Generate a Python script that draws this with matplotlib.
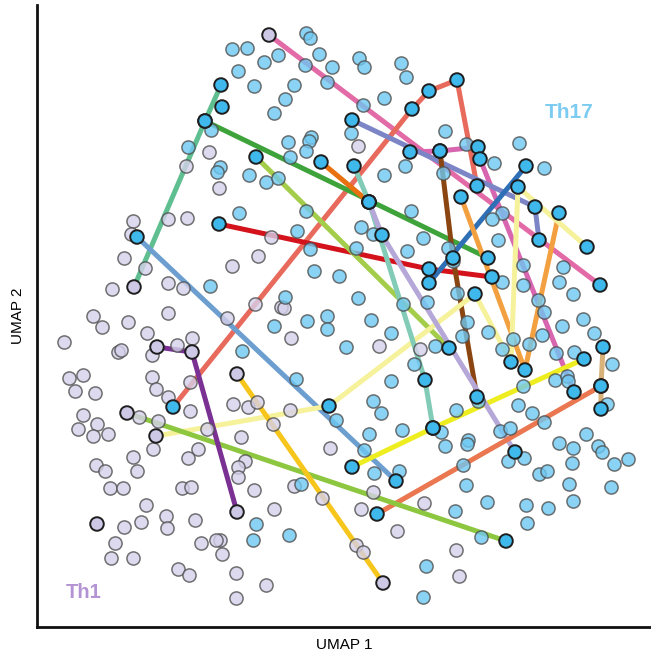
import matplotlib
matplotlib.use("Agg")
import matplotlib.pyplot as plt

plt.rcParams['font.family'] = ['Liberation Sans', 'DejaVu Sans']

# UMAP coordinates of the background cells (UMAP 2 axis runs downwards here)
th17_x = [306, 310, 232, 247, 278, 264, 319, 305, 332, 359, 364, 401, 406, 238, 254, 294, 327, 285,
          274, 363, 384, 211, 351, 445, 519, 466, 311, 309, 288, 306, 290, 494, 405, 544, 220, 217,
          249, 266, 278, 384, 443, 188,
          239, 306, 411, 502, 492, 423, 498, 448, 407, 361, 373, 297, 310, 356, 453, 523, 563, 502,
          559, 523, 457, 573, 427, 538, 544, 583, 467, 462, 488, 562, 594, 542, 513, 529, 502, 435,
          556, 574, 612, 555, 567, 568, 523, 478, 518, 532, 607, 456, 544, 441, 500, 510, 586, 468,
          314, 339, 358, 403, 285, 210, 327, 327, 307, 274, 371, 391, 346, 242, 414, 391, 296, 373,
          381, 336, 402, 369, 364, 374, 399, 301, 256, 253, 289,
          445, 467, 508, 524, 559, 573, 598, 602, 628, 614, 572, 463, 539, 547, 466, 569, 611, 487,
          455, 526, 548, 573, 527, 481, 426, 423]
th17_y = [33, 38, 49, 48, 55, 62, 54, 65, 67, 58, 67, 63, 77, 71, 86, 85, 82, 99,
          113, 105, 98, 130, 133, 131, 143, 144, 137, 141, 142, 151, 157, 163, 166, 168, 167, 172,
          175, 182, 178, 175, 173, 147,
          213, 211, 211, 213, 219, 238, 240, 248, 251, 227, 234, 231, 249, 248, 261, 265, 267, 282,
          282, 285, 293, 294, 302, 300, 312, 319, 322, 336, 332, 326, 333, 335, 339, 344, 349, 346,
          353, 352, 364, 380, 376, 381, 386, 401, 405, 413, 404, 410, 422, 432, 431, 428, 434, 440,
          271, 276, 298, 304, 297, 286, 316, 329, 321, 326, 320, 333, 347, 351, 364, 381, 379, 401,
          413, 420, 430, 434, 450, 473, 471, 484, 524, 540, 535,
          446, 444, 461, 458, 443, 448, 446, 452, 459, 464, 463, 465, 474, 471, 485, 484, 487, 502,
          511, 505, 508, 501, 523, 537, 566, 597]

th1_x = [358, 209, 186, 219, 187, 168, 133, 131, 124, 145, 168, 183, 112, 232, 258, 271, 255, 281,
         284, 93, 128, 168, 227, 102, 147, 64, 192, 177, 118, 121, 152, 69, 83, 75, 95, 152,
         156, 168, 190, 233, 248, 257, 290, 273, 241, 330, 245, 238, 238, 254, 294, 373, 322, 274,
         361, 397, 356, 363, 220, 222, 236, 266, 236, 83, 139, 158, 190, 78, 97, 93, 108, 153,
         207, 198, 188, 133, 137, 96, 105, 110, 123, 182, 191, 146, 124, 141, 166, 167, 195, 115,
         111, 133, 201, 216, 178, 189, 424, 456, 459, 291, 379, 420]
th1_y = [146, 152, 166, 188, 218, 219, 221, 234, 258, 268, 283, 288, 289, 266, 256, 237, 304, 307,
         308, 316, 322, 313, 318, 327, 333, 342, 338, 345, 352, 350, 355, 378, 375, 391, 393, 377,
         389, 397, 382, 404, 407, 402, 410, 424, 437, 448, 461, 467, 477, 490, 486, 492, 498, 509,
         509, 531, 545, 552, 540, 554, 573, 585, 598, 415, 417, 421, 411, 429, 424, 436, 434, 449,
         429, 449, 458, 457, 471, 465, 471, 488, 488, 488, 487, 505, 527, 522, 516, 528, 520, 543,
         558, 558, 543, 540, 569, 575, 503, 550, 576, 338, 346, 349]

# clone trajectories: vertices (x, y) and the cell type of each vertex
clone_x = [[269, 600], [410, 440, 478, 480, 574], [173, 412, 429, 457, 477], [205, 488],
           [221, 205, 134], [137, 396], [219, 429, 492], [256, 449], [321, 369],
           [352, 535, 539], [526, 429], [440, 453, 477], [461, 525, 559],
           [156, 329, 475, 511, 518, 587], [352, 433, 584], [354, 369, 425, 433], [369, 382, 515],
           [377, 601], [603, 601, 601], [127, 506], [237, 383], [157, 192, 237]]
clone_y = [[35, 285], [152, 151, 147, 159, 392], [407, 109, 91, 80, 186], [121, 258],
           [85, 121, 287], [237, 481], [224, 269, 277], [157, 348], [162, 202],
           [120, 207, 240], [166, 283], [151, 258, 397], [197, 370, 213],
           [436, 406, 294, 362, 187, 247], [467, 428, 359], [166, 202, 380, 428], [202, 235, 452],
           [514, 386], [347, 386, 409], [413, 541], [374, 583], [347, 352, 512]]
clone_type = [['Th1', 'Th17'], ['Th17'] * 5, ['Th17'] * 5, ['Th17'] * 2,
              ['Th17', 'Th17', 'Th1'], ['Th17'] * 2, ['Th17'] * 3, ['Th17'] * 2, ['Th17'] * 2,
              ['Th17'] * 3, ['Th17'] * 2, ['Th17'] * 3, ['Th17'] * 3,
              ['Th1'] + ['Th17'] * 5, ['Th17'] * 3, ['Th17'] * 4, ['Th17'] * 3,
              ['Th17'] * 2, ['Th17'] * 3, ['Th1', 'Th17'], ['Th1', 'Th1'], ['Th1'] * 3]
clone_colors = ['#e26aa6', '#d765b0', '#e86a5c', '#3ea33a', '#5fbf90', '#6c9fd0', '#d4121c',
                '#a3cd4a', '#e8700f', '#7c86c6', '#2f6fb5', '#8a4511', '#f2a040', '#f6f29b',
                '#eded1f', '#82ccb7', '#b5a8d8', '#ea7750', '#d9b27a', '#8dc63f', '#f6c61d',
                '#7b3194']

# single clone-marked cells without a drawn path
single_x = [222, 97]
single_y = [107, 524]
single_type = ['Th17', 'Th1']

fill = {'Th17': '#6ec8f2', 'Th1': '#d5d1eb'}
fill_hl = {'Th17': '#3fb8ec', 'Th1': '#cdc8e6'}

fig = plt.figure(figsize=(6.51, 6.58), dpi=100)
ax = fig.add_axes([37 / 651, 31 / 658, 614 / 651, 622 / 658])

for xs, ys, c in zip(clone_x, clone_y, clone_colors):
    ax.plot(xs, ys, color=c, lw=3.6, solid_capstyle='round', zorder=1)

ax.scatter(th1_x, th1_y, s=90, c=fill['Th1'], edgecolors='#505050', linewidths=1.1,
           alpha=0.8, zorder=2)
ax.scatter(th17_x, th17_y, s=90, c=fill['Th17'], edgecolors='#505050', linewidths=1.1,
           alpha=0.8, zorder=2)

hx, hy, hc = [], [], []
for xs, ys, ts in zip(clone_x, clone_y, clone_type):
    for x, y, t in zip(xs, ys, ts):
        hx.append(x)
        hy.append(y)
        hc.append(fill_hl[t])
for x, y, t in zip(single_x, single_y, single_type):
    hx.append(x)
    hy.append(y)
    hc.append(fill_hl[t])
ax.scatter(hx, hy, s=95, c=hc, edgecolors='#1e1e1e', linewidths=1.4, zorder=3)

ax.set_xlim(37, 651)
ax.set_ylim(627, 5)
ax.set_xticks([])
ax.set_yticks([])
for side in ['top', 'right']:
    ax.spines[side].set_visible(False)
for side in ['left', 'bottom']:
    ax.spines[side].set_linewidth(2)
    ax.spines[side].set_color('#111111')

ax.set_xlabel('UMAP 1', fontsize=11, labelpad=8)
ax.set_ylabel('UMAP 2', fontsize=11, labelpad=9)

ax.text(569, 112, 'Th17', color='#7ccbf0', fontsize=15, fontweight='bold', ha='center', va='center')
ax.text(84, 592, 'Th1', color='#b393d3', fontsize=14.5, fontweight='bold', ha='center', va='center')

fig.savefig('out.png', dpi=100)
